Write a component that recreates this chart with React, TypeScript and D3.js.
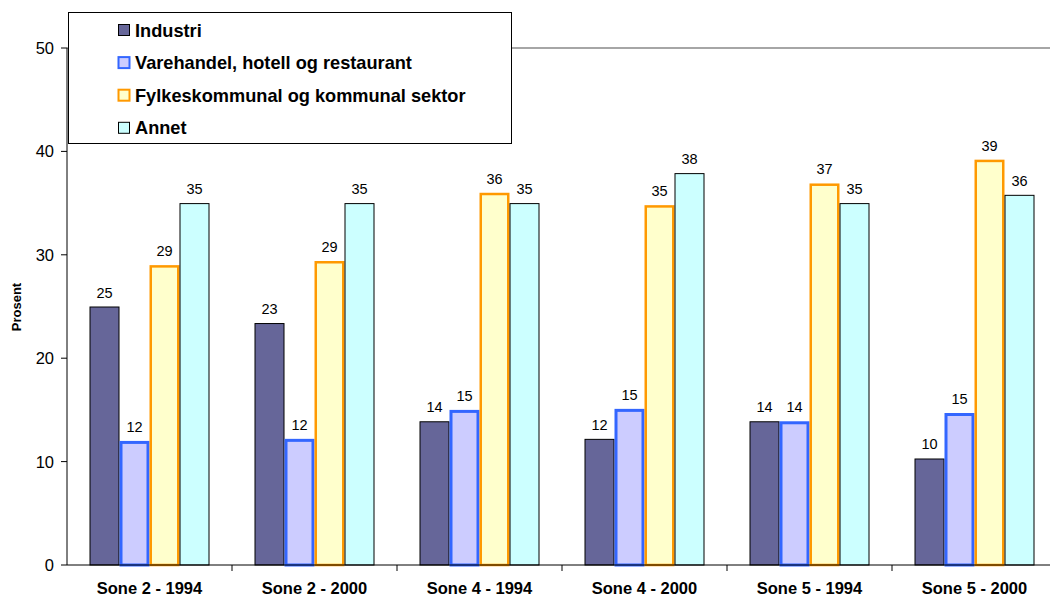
import React from "react";
import * as d3 from "d3";

const categories = ["Sone 2 - 1994", "Sone 2 - 2000", "Sone 4 - 1994", "Sone 4 - 2000", "Sone 5 - 1994", "Sone 5 - 2000"];
const seriesNames = ["Industri", "Varehandel, hotell og restaurant", "Fylkeskommunal og kommunal sektor", "Annet"];
const industri = [25.0, 23.4, 13.9, 12.2, 13.9, 10.3];
const varehandel = [12.0, 12.2, 15.0, 15.1, 13.9, 14.7];
const fylkes = [29.0, 29.4, 36.0, 34.8, 36.9, 39.2];
const annet = [35.0, 35.0, 35.0, 37.9, 35.0, 35.8];
const yTicks = [0, 10, 20, 30, 40, 50];

const seriesValues = [industri, varehandel, fylkes, annet];
const fills = ["#666699", "#CCCCFF", "#FFFFCC", "#CCFFFF"];
const strokes = ["#000000", "#3366FF", "#FF9900", "#000000"];
const strokeW = [1, 3, 2.5, 1];

export default function App() {
  const W = 1050, H = 601;
  const left = 67, right = 1057, top = 48, bottom = 565;
  const x = d3.scaleBand().domain(categories).range([left, right]).paddingInner(0).paddingOuter(0);
  const bandW = x.bandwidth();
  const inner = d3.scaleBand().domain(seriesNames).range([22.5, bandW - 22.5]).padding(0);
  const y = d3.scaleLinear().domain([0, 50]).range([bottom, top]);
  const font = "Arial, 'Liberation Sans', sans-serif";

  return (
    <svg width={W} height={H} style={{ position: "absolute", left: 0, top: 0, background: "#fff" }} fontFamily={font}>
      <line x1={left} x2={W} y1={top} y2={top} stroke="#888" strokeWidth={1.5} />
      {categories.map((c, ci) => (
        <g key={c}>
          {seriesValues.map((vals, si) => {
            const v = vals[ci];
            const bx = (x(c) as number) + (inner(seriesNames[si]) as number);
            const bw = inner.bandwidth();
            const yt = y(v);
            const sw = strokeW[si];
            return (
              <g key={si}>
                <rect
                  x={bx + sw / 2}
                  y={yt + sw / 2}
                  width={bw - sw}
                  height={bottom - yt - sw / 2}
                  fill={fills[si]}
                  stroke={strokes[si]}
                  strokeWidth={sw}
                />
                <text x={bx + bw / 2} y={yt - 9} textAnchor="middle" fontSize={14.5} fill="#000">
                  {Math.round(v)}
                </text>
              </g>
            );
          })}
        </g>
      ))}
      {/* axes */}
      <line x1={left} x2={left} y1={top} y2={bottom} stroke="#000" strokeWidth={1} />
      <line x1={left} x2={W} y1={bottom} y2={bottom} stroke="#000" strokeWidth={1} />
      {yTicks.map((t) => (
        <g key={t}>
          <line x1={left - 6} x2={left} y1={y(t)} y2={y(t)} stroke="#000" />
          <text x={54} y={y(t) + 6} textAnchor="end" fontSize={16.5} fill="#000">{t}</text>
        </g>
      ))}
      {categories.map((c, i) => (
        <g key={c}>
          <line x1={(x(c) as number) + bandW} x2={(x(c) as number) + bandW} y1={bottom} y2={bottom + 6} stroke="#000" />
          <text x={(x(c) as number) + bandW / 2} y={594} textAnchor="middle" fontSize={16.5} fontWeight="bold" fill="#000">{c}</text>
        </g>
      ))}
      <text transform={`translate(21,307) rotate(-90)`} textAnchor="middle" fontSize={13} fontWeight="bold" fill="#000">Prosent</text>
      {/* legend */}
      <rect x={68.5} y={12.5} width={443} height={131} fill="#fff" stroke="#000" strokeWidth={1} />
      {seriesNames.map((s, i) => {
        const cy = 30 + i * 32.6;
        return (
          <g key={s}>
            <rect x={118.5} y={cy - 5.5} width={11} height={11} fill={fills[i]} stroke={strokes[i]} strokeWidth={i === 0 || i === 3 ? 1 : 2} />
            <text x={135} y={cy + 6.5} fontSize={18.2} fontWeight="bold" fill="#000">{s}</text>
          </g>
        );
      })}
    </svg>
  );
}
